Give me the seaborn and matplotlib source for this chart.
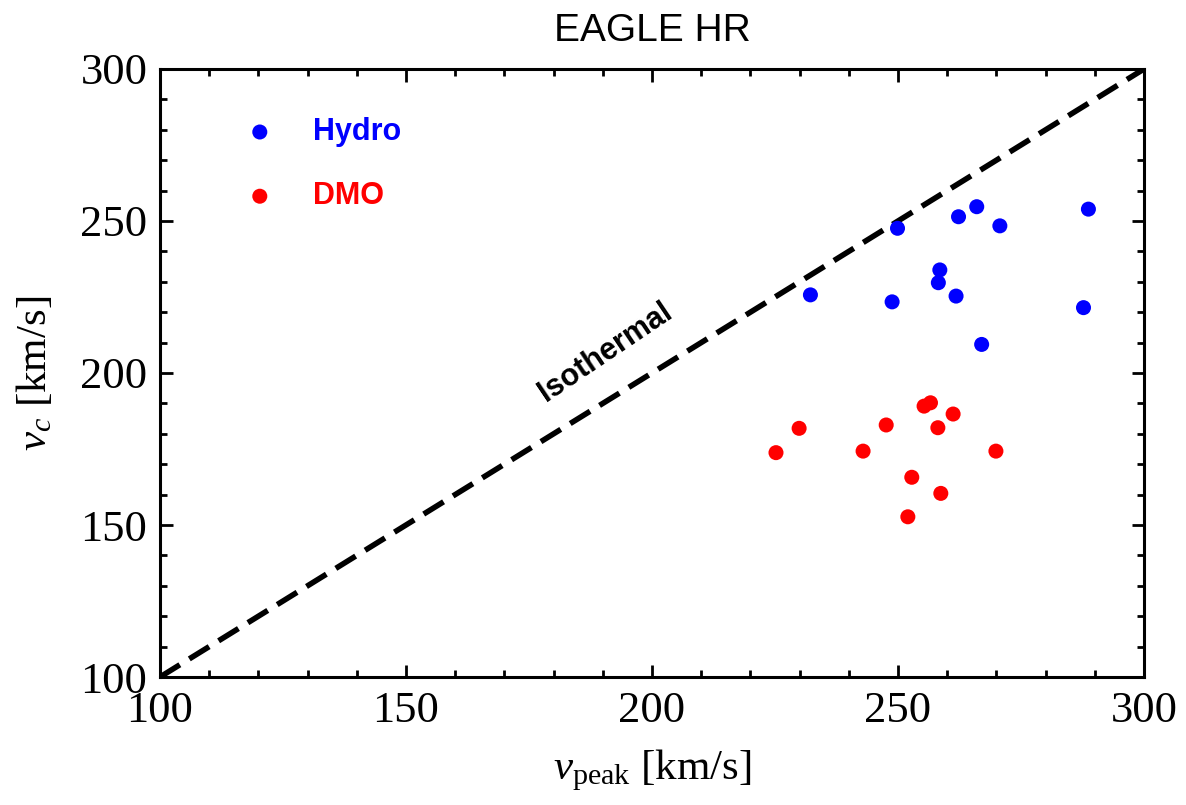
import matplotlib
matplotlib.use("Agg")
import matplotlib.pyplot as plt
import seaborn as sns
import pandas as pd

# Circular velocity vs. peak velocity, EAGLE high-resolution haloes
hydro_vpeak = [232.2, 249.9, 248.8, 262.3, 266.0, 270.7, 288.7, 258.5, 258.2, 261.8, 287.7, 267.0]
hydro_vc = [225.7, 247.6, 223.4, 251.4, 254.7, 248.4, 253.9, 233.9, 229.7, 225.3, 221.5, 209.4]

dmo_vpeak = [225.2, 229.9, 242.9, 247.6, 255.3, 256.6, 261.2, 258.1, 269.9, 252.8, 258.7, 252.0]
dmo_vc = [173.8, 181.8, 174.3, 182.9, 189.1, 190.2, 186.5, 182.0, 174.3, 165.7, 160.4, 152.7]

iso_v = [100, 300]
ticks_major = [100, 150, 200, 250, 300]

sns.set_style("ticks")
plt.rcParams["font.family"] = ["Liberation Serif", "DejaVu Serif"]
plt.rcParams["mathtext.fontset"] = "custom"
plt.rcParams["mathtext.rm"] = "Liberation Serif"
plt.rcParams["mathtext.it"] = "Liberation Serif:italic"
plt.rcParams["text.color"] = "black"
plt.rcParams["axes.labelcolor"] = "black"
plt.rcParams["xtick.color"] = "black"
plt.rcParams["ytick.color"] = "black"

hydro = pd.DataFrame({"vpeak": hydro_vpeak, "vc": hydro_vc})
dmo = pd.DataFrame({"vpeak": dmo_vpeak, "vc": dmo_vc})

fig = plt.figure(figsize=(11.86, 8.05), dpi=100)
ax = fig.add_axes([0.1349, 0.159, 0.8297, 0.7553])

# isothermal reference line v_c = v_peak
ax.plot(iso_v, iso_v, color="black", lw=4.0, dashes=(4.2, 2.0), zorder=1)

sns.scatterplot(data=hydro, x="vpeak", y="vc", color="blue", s=117,
                edgecolor="none", label="Hydro", ax=ax, zorder=3)
sns.scatterplot(data=dmo, x="vpeak", y="vc", color="red", s=117,
                edgecolor="none", label="DMO", ax=ax, zorder=3)

ax.text(190.6, 206.8, "Isothermal", rotation=47.5, transform_rotates_text=True,
        rotation_mode="anchor", ha="center", va="center",
        family="Liberation Sans", weight="bold", fontsize=22, color="black")

ax.set_xlim(100, 300)
ax.set_ylim(100, 300)
ax.set_xticks(ticks_major)
ax.set_yticks(ticks_major)
ax.set_xticks(range(100, 301, 10), minor=True)
ax.set_yticks(range(100, 301, 10), minor=True)

for sp in ax.spines.values():
    sp.set_visible(True)
    sp.set_linewidth(2.2)
    sp.set_color("black")

ax.tick_params(which="both", direction="in", top=True, right=True,
               color="black", width=2.0)
ax.tick_params(which="major", length=9, labelsize=32)
ax.tick_params(axis="x", which="major", pad=10)
ax.tick_params(axis="y", which="major", pad=9)
ax.tick_params(which="minor", length=5)

ax.set_xlabel(r"$v_{\mathrm{peak}}$ [km/s]", fontsize=31, labelpad=12)
ax.set_ylabel(r"$v_c$ [km/s]", fontsize=31, labelpad=18)
ax.set_title("EAGLE HR", family="Liberation Sans", fontsize=28, pad=20)

leg = ax.legend(loc="upper left", bbox_to_anchor=(0.0859, 0.921), frameon=False,
                borderpad=0, borderaxespad=0, handlelength=1.0, handletextpad=1.25,
                labelspacing=1.12, labelcolor="markerfacecolor",
                prop={"family": "Liberation Sans", "weight": "bold", "size": 22})

fig.savefig("out.png", dpi=100)
